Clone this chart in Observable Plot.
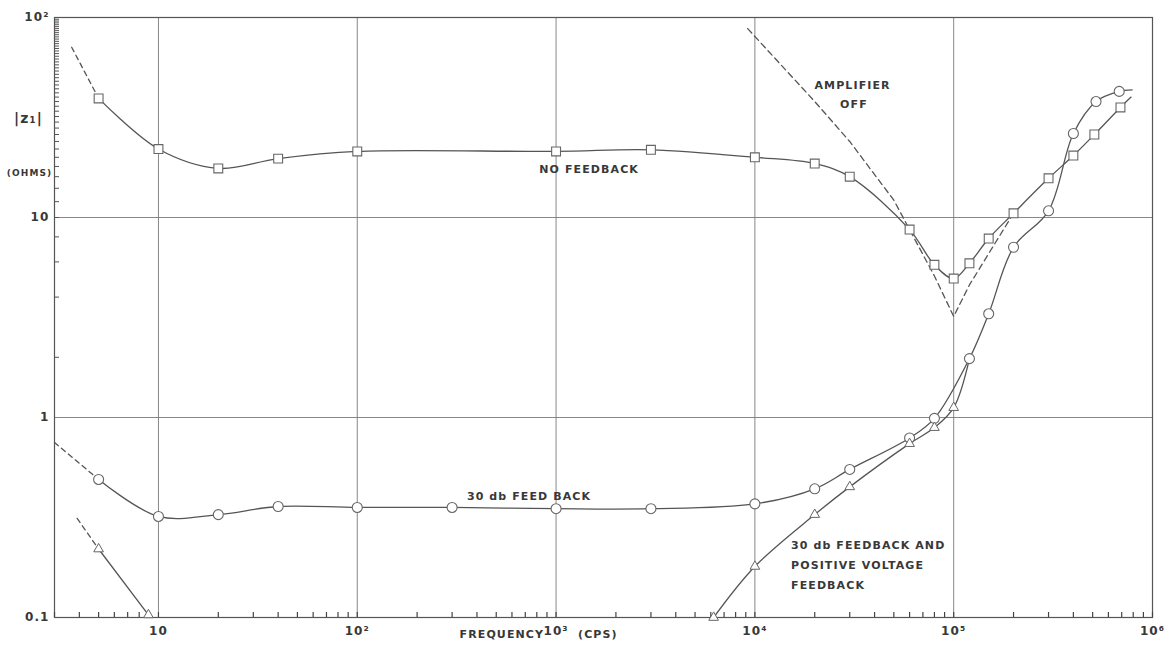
<!DOCTYPE html>
<html><head><meta charset="utf-8">
<script src="https://cdn.jsdelivr.net/npm/d3@7"></script>
<script src="https://cdn.jsdelivr.net/npm/@observablehq/plot@0.6"></script>
<style>
body{margin:0;background:#fff;}
svg{display:block}
#chart svg text{letter-spacing:1.1px}
</style>
</head><body><div id="chart"></div>
<script>
// Tick labels
const xTicks = [3, 10, 100, 1e3, 1e4, 1e5, 1e6];
const xTickLabels = ["3", "10", "10²", "10³", "10⁴", "10⁵", "10⁶"];
const yTicks = [0.1, 1, 10, 100];
const yTickLabels = ["0.1", "1", "10", "10²"];
const xGrid = [10, 100, 1e3, 1e4, 1e5];
const yGrid = [1, 10];

// NO FEEDBACK (squares)
const noFbFreq = [5, 10, 20, 40, 100, 1000, 3000, 1e4, 2e4, 3e4, 6e4, 8e4, 1e5, 1.2e5, 1.5e5, 2e5, 3e5, 4e5, 5.1e5, 6.9e5, 7.8e5];
const noFbZ    = [39.4, 22, 17.6, 19.7, 21.4, 21.4, 21.8, 20, 18.6, 16, 8.7, 5.8, 4.95, 5.9, 7.85, 10.5, 15.7, 20.4, 26, 35.5, 40];
const noFbMarked = 20; // first N points carry a marker
const noFbDashFreq = [3.66, 5];
const noFbDashZ = [71, 39.4];

// AMPLIFIER OFF (dashed)
const ampOffFreq = [9.2e3, 2e4, 3e4, 5e4, 6e4, 8e4, 1e5, 1.2e5, 1.5e5, 2e5];
const ampOffZ    = [88, 38, 24, 12.2, 8.7, 5.1, 3.2, 4.6, 6.6, 10.5];

// 30 db FEEDBACK (circles)
const fb30Freq = [5, 10, 20, 40, 100, 300, 1000, 3000, 1e4, 2e4, 3e4, 6e4, 8e4, 1.2e5, 1.5e5, 2e5, 3e5, 4e5, 5.2e5, 6.8e5, 7.9e5];
const fb30Z    = [0.49, 0.32, 0.327, 0.359, 0.355, 0.355, 0.35, 0.35, 0.37, 0.44, 0.55, 0.79, 0.99, 1.97, 3.3, 7.1, 10.8, 26.3, 38, 42.7, 43.5];
const fb30Marked = 20;
const fb30DashFreq = [3, 5];
const fb30DashZ = [0.75, 0.49];

// 30 db FEEDBACK AND POSITIVE VOLTAGE FEEDBACK (triangles)
const posLowFreq = [5, 8.9];
const posLowZ    = [0.22, 0.103];
const posDashFreq = [3.9, 5];
const posDashZ    = [0.313, 0.22];
const posHighFreq = [6200, 1e4, 2e4, 3e4, 6e4, 8e4, 1e5, 1.2e5];
const posHighZ    = [0.1, 0.18, 0.327, 0.45, 0.74, 0.89, 1.12, 1.97];
const posHighMarked = 7;

// Annotations
const noteText = ["AMPLIFIER", "OFF", "NO FEEDBACK", "30 db FEED BACK"];
const noteFreq = [31000, 31500, 1466, 731];
const noteZ    = [45.7, 36.7, 17.4, 0.403];
const posNoteText = ["30 db FEEDBACK AND", "POSITIVE VOLTAGE", "FEEDBACK"];
const posNoteFreq = [15200, 15200, 15200];
const posNoteZ    = [0.229, 0.182, 0.145];

const W = 1166, H = 651, mT = 17, mB = 34, mL = 54, mR = 14;
const zip = (xs, ys) => xs.map((x, i) => ({x, y: ys[i]}));
const xLabel = new Map(xTicks.map((d, i) => [d, xTickLabels[i]]));
const yLabel = new Map(yTicks.map((d, i) => [d, yTickLabels[i]]));
const xMinor = d3.scaleLog().domain([3, 1e6]).ticks(60);
const yMinor = d3.scaleLog().domain([0.1, 100]).ticks(60);

const noFb = zip(noFbFreq, noFbZ);
const fb30 = zip(fb30Freq, fb30Z);
const posHigh = zip(posHighFreq, posHighZ);
const posLow = zip(posLowFreq, posLowZ);

const ink = "#555";
const lineW = 1.3;
const txt = "#383838";
const tickLen = 5;

const chart = Plot.plot({
  width: W, height: H,
  marginLeft: mL, marginRight: mR, marginTop: mT, marginBottom: mB,
  style: {fontFamily: "DejaVu Sans", fontSize: "11px", color: txt, background: "#fff"},
  x: {type: "log", domain: [3, 1e6]},
  y: {type: "log", domain: [0.1, 100]},
  marks: [
    Plot.ruleX(xGrid, {stroke: "#7a7a7a", strokeWidth: 0.9}),
    Plot.ruleY(yGrid, {stroke: "#7a7a7a", strokeWidth: 0.9}),
    Plot.frame({stroke: "#555", strokeWidth: 1.2}),
    // minor ticks, pointing inward
    Plot.ruleX(xMinor, {x: d => d, y1: yTicks[0], y2: yTicks[0], stroke: "#444", strokeWidth: 1.2, insetTop: -tickLen}),
    Plot.ruleY(yMinor, {stroke: "#555", strokeWidth: 1, insetRight: W - mL - mR - tickLen}),
    // labelled axes
    Plot.axisX({ticks: xTicks, tickSize: 0, tickPadding: 9, tickFormat: d => xLabel.get(d), label: null, fontSize: 12, fontWeight: "bold", fill: txt}),
    Plot.axisY({ticks: yTicks, tickSize: 0, tickPadding: 5, tickFormat: d => yLabel.get(d), label: null, fontSize: 12, fontWeight: "bold", fill: txt}),
    Plot.text(["FREQUENCY"], {x: [1e3], frameAnchor: "bottom", dy: 20, dx: -12, textAnchor: "end", fontSize: 11, fontWeight: "bold", fill: txt}),
    Plot.text(["(CPS)"], {x: [1e3], frameAnchor: "bottom", dy: 20, dx: 22, textAnchor: "start", fontSize: 11, fontWeight: "bold", fill: txt}),
    Plot.text(["|z₁|"], {x: [3], y: [31.3], dx: -26, fontSize: 14, fontWeight: "bold", fill: txt}),
    Plot.text(["(OHMS)"], {x: [3], y: [16.6], dx: -25, fontSize: 9, fontWeight: "bold", fill: txt}),

    // curves
    Plot.line(zip(noFbDashFreq, noFbDashZ), {x: "x", y: "y", stroke: ink, strokeWidth: lineW, strokeDasharray: "5,4"}),
    Plot.line(noFb, {x: "x", y: "y", stroke: ink, strokeWidth: lineW, curve: "catmull-rom"}),
    Plot.line(zip(ampOffFreq, ampOffZ), {x: "x", y: "y", stroke: ink, strokeWidth: lineW, strokeDasharray: "6,4"}),
    Plot.line(zip(fb30DashFreq, fb30DashZ), {x: "x", y: "y", stroke: ink, strokeWidth: lineW, strokeDasharray: "5,4"}),
    Plot.line(fb30, {x: "x", y: "y", stroke: ink, strokeWidth: lineW, curve: "catmull-rom"}),
    Plot.line(zip(posDashFreq, posDashZ), {x: "x", y: "y", stroke: ink, strokeWidth: lineW, strokeDasharray: "5,4"}),
    Plot.line(posLow, {x: "x", y: "y", stroke: ink, strokeWidth: lineW}),
    Plot.line(posHigh, {x: "x", y: "y", stroke: ink, strokeWidth: lineW, curve: "catmull-rom"}),

    // markers
    Plot.dot(noFb.slice(0, noFbMarked), {x: "x", y: "y", symbol: "square", r: 5, fill: "#fff", stroke: "#666", strokeWidth: 1.1}),
    Plot.dot(fb30.slice(0, fb30Marked), {x: "x", y: "y", symbol: "circle", r: 5, fill: "#fff", stroke: "#666", strokeWidth: 1.1}),
    Plot.dot(posLow, {x: "x", y: "y", symbol: "triangle", r: 3.6, fill: "#fff", stroke: "#666", strokeWidth: 1}),
    Plot.dot(posHigh.slice(0, posHighMarked), {x: "x", y: "y", symbol: "triangle", r: 3.6, fill: "#fff", stroke: "#666", strokeWidth: 1}),

    // annotations
    Plot.text(noteText, {x: (d, i) => noteFreq[i], y: (d, i) => noteZ[i], text: d => d, fontSize: 11, fontWeight: "bold", fill: txt}),
    Plot.text(posNoteText, {x: (d, i) => posNoteFreq[i], y: (d, i) => posNoteZ[i], text: d => d, textAnchor: "start", fontSize: 11, fontWeight: "bold", fill: txt})
  ]
});
document.getElementById("chart").append(chart);
</script>
</body></html>
